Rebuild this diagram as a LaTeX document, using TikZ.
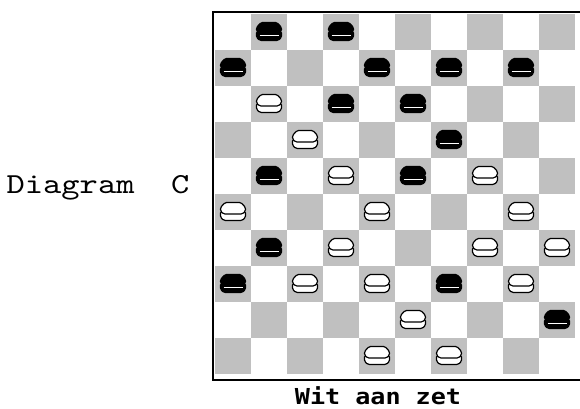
\documentclass[tikz,border=0pt]{standalone}
\usepackage{fontspec}
\newfontfamily\diagfont[FakeStretch=1.2]{lmmono10-regular.otf}
\newfontfamily\capfont[FakeStretch=1.14]{DejaVu Sans Mono}
\definecolor{boardgray}{RGB}{192,192,192}

\begin{document}
\begin{tikzpicture}[x=1pt, y=-1pt,
  darksquare/.style={fill=boardgray},
  whiteman/.pic={
    \draw[fill=white, line width=1.2, rounded corners=1.5] (-12.5,0) -- (-12.5,6) -- (-9,9) -- (9,9) -- (12.5,6) -- (12.5,0) -- cycle;
    \draw[fill=white, line width=1.2, rounded corners=1.5] (-12.5,-4) -- (-8,-9) -- (8,-9) -- (12.5,-4) -- (12.5,-0.5) -- (9.5,2.5) -- (-9.5,2.5) -- (-12.5,-0.5) -- cycle;
  },
  blackman/.pic={
    \draw[fill=black, line width=1.2, rounded corners=1.5] (-12.5,0) -- (-12.5,6) -- (-9,9) -- (9,9) -- (12.5,6) -- (12.5,0) -- cycle;
    \draw[fill=black, line width=1.2, rounded corners=1.5] (-12.5,-4) -- (-8,-9) -- (8,-9) -- (12.5,-4) -- (12.5,-0.5) -- (9.5,2.5) -- (-9.5,2.5) -- (-12.5,-0.5) -- cycle;
    \draw[white, line width=1] (-9.5,3.6) -- (9.5,3.6);
  }]
\useasboundingbox (0,0) rectangle (580,408);
% dark squares
\foreach \r in {1,...,10}
  \foreach \c [evaluate={\c as \x using 215+36*(\c+mod(\r,2)-1)}] in {1,3,5,7,9}
    \path[darksquare] (\x,{13.5+36*(\r-1)}) rectangle ++(36,36);
% frame
\draw[line width=2] (580,12.3) -- (213,12.3) -- (213,380) -- (580,380);
% black men
\foreach \c/\r in {2/1,4/1,1/2,5/2,7/2,9/2,4/3,6/3,7/4,2/5,6/5,2/7,1/8,7/8,10/9}
  \pic at ({215+36*(\c-0.5)},{13.5+36*(\r-0.5)}) {blackman};
% white men
\foreach \c/\r in {2/3,3/4,4/5,8/5,1/6,5/6,9/6,4/7,8/7,10/7,3/8,5/8,9/8,6/9,5/10,7/10}
  \pic at ({215+36*(\c-0.5)},{13.5+36*(\r-0.5)}) {whiteman};
\node[font=\diagfont\fontsize{29}{34}\selectfont, anchor=base] (title) at (98,193.3) {Diagram\ \ C};
\node[font=\capfont\bfseries\fontsize{22}{26}\selectfont, anchor=base, inner sep=0pt] (caption) at (378,404) {Wit aan zet};
\end{tikzpicture}
\end{document}
